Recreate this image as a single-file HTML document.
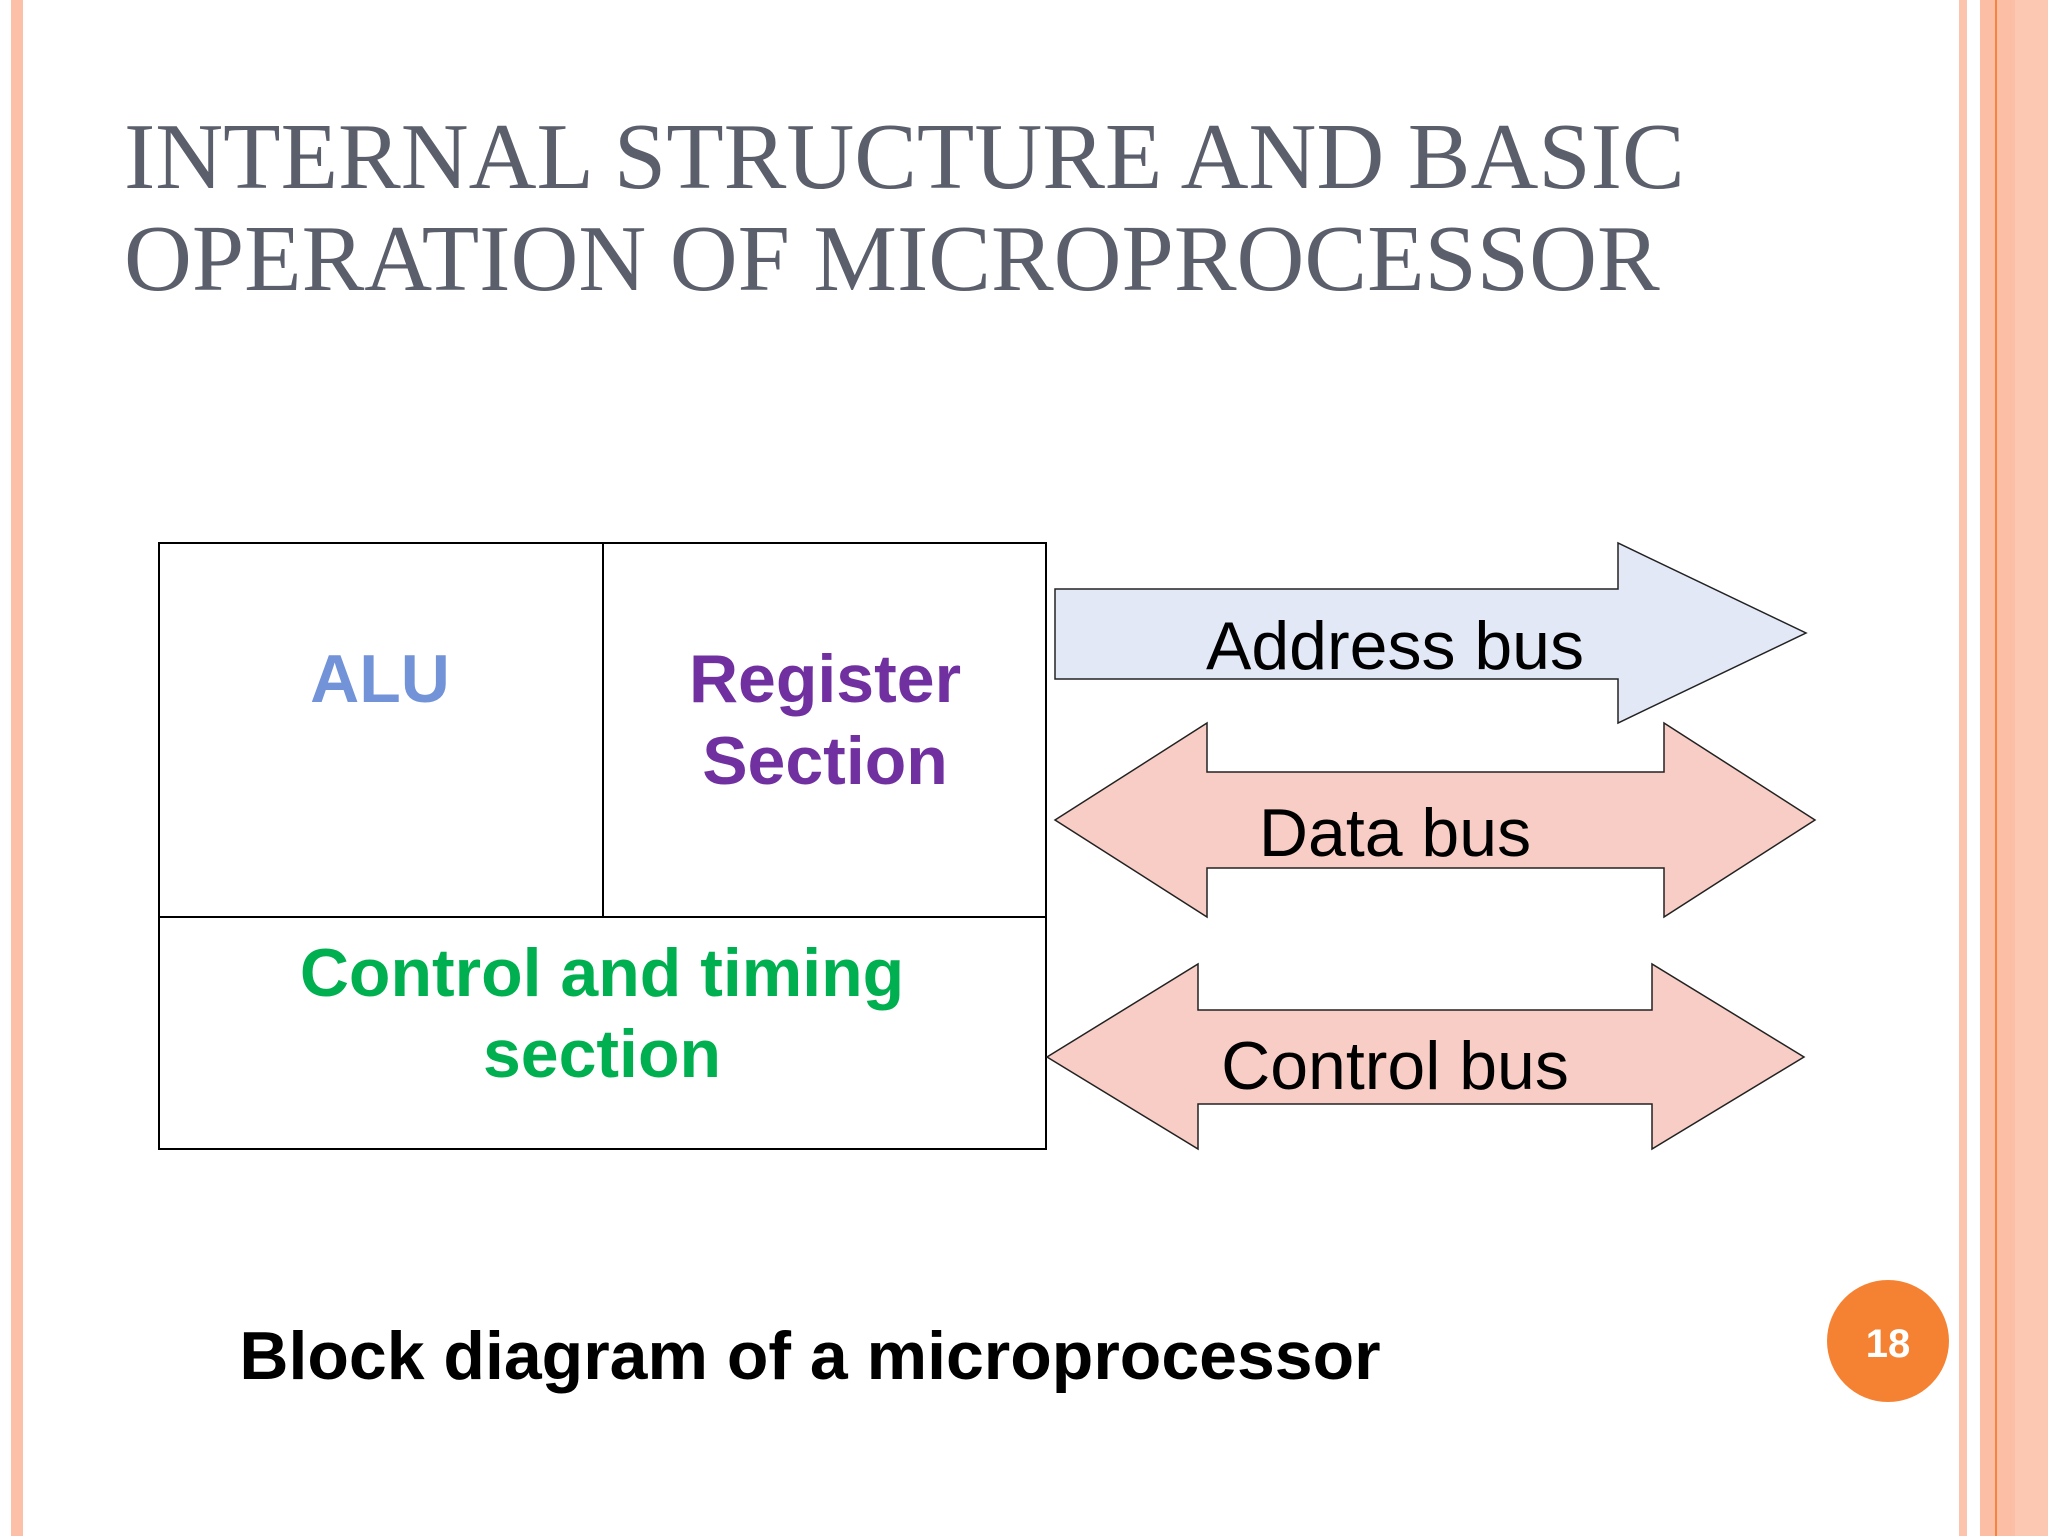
<!DOCTYPE html>
<html><head><style>
body{margin:0;width:2048px;height:1536px;background:#fff;position:relative;overflow:hidden;font-family:"Liberation Sans",sans-serif}
.t{position:absolute;white-space:nowrap}
</style></head><body>
<div style="position:absolute;left:11px;top:0;width:12px;height:1536px;background:#fcbfa8"></div>
<div style="position:absolute;left:1959px;top:0;width:8px;height:1536px;background:#fcc4ad"></div>
<div style="position:absolute;left:1980px;top:0;width:68px;height:1536px;background:#fdc8b1"></div>
<div style="position:absolute;left:1980px;top:0;width:35px;height:1536px;background:#fcbfa6"></div>
<div style="position:absolute;left:1995px;top:0;width:2px;height:1536px;background:#f4843f"></div>
<div class="t" style="left:124px;top:106px;font-family:'Liberation Serif',serif;font-size:94px;line-height:102px;color:#5b5f6b">INTERNAL STRUCTURE AND BASIC<br>OPERATION OF MICROPROCESSOR</div>
<svg width="2048" height="1536" style="position:absolute;left:0;top:0">
<rect x="159" y="543" width="887" height="606" fill="#fff" stroke="#000" stroke-width="2"/>
<line x1="603" y1="543" x2="603" y2="917" stroke="#000" stroke-width="2"/>
<line x1="159" y1="917" x2="1046" y2="917" stroke="#000" stroke-width="2"/>
<polygon points="1055,589 1618,589 1618,543 1806,633 1618,723 1618,679 1055,679" fill="#e3e8f7" stroke="#222" stroke-width="1.5"/>
<polygon points="1055,820 1207,723 1207,772 1664,772 1664,723 1815,820 1664,917 1664,868 1207,868 1207,917" fill="#f7cdc5" stroke="#222" stroke-width="1.5"/>
<polygon points="1047,1057 1198,964 1198,1010 1652,1010 1652,964 1804,1057 1652,1149 1652,1104 1198,1104 1198,1149" fill="#f7cdc5" stroke="#222" stroke-width="1.5"/>
<g font-family="Liberation Sans, sans-serif" text-anchor="middle">
<text x="380" y="702" font-size="68" font-weight="bold" fill="#7393d8">ALU</text>
<text x="825" y="702" font-size="68" font-weight="bold" fill="#7030a0">Register</text>
<text x="825" y="784" font-size="68" font-weight="bold" fill="#7030a0">Section</text>
<text x="602" y="996" font-size="68" font-weight="bold" fill="#00b050">Control and timing</text>
<text x="602" y="1077" font-size="68" font-weight="bold" fill="#00b050">section</text>
<text x="1395" y="669" font-size="68" fill="#000">Address bus</text>
<text x="1395" y="856" font-size="68" fill="#000">Data bus</text>
<text x="1395" y="1089" font-size="68" fill="#000">Control bus</text>
<text x="810" y="1379" font-size="68" font-weight="bold" fill="#000">Block diagram of a microprocessor</text>
</g>
<circle cx="1888" cy="1341" r="61" fill="#f58233"/>
<text x="1888" y="1357" font-family="Liberation Sans, sans-serif" font-size="40" font-weight="bold" fill="#fff" text-anchor="middle">18</text>
</svg>
</body></html>
